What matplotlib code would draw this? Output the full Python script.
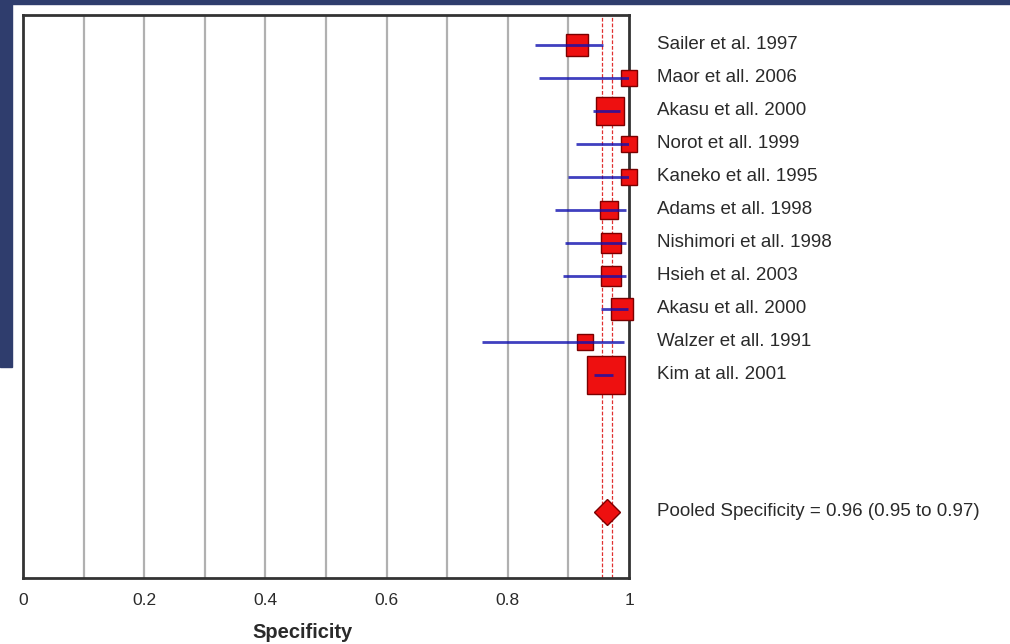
import matplotlib
matplotlib.use("Agg")
import matplotlib.pyplot as plt
from matplotlib.patches import Rectangle
import numpy as np

plt.rcParams['font.family'] = ['Liberation Sans', 'DejaVu Sans']

studies = ["Sailer et al. 1997", "Maor et all. 2006", "Akasu et all. 2000",
           "Norot et all. 1999", "Kaneko et all. 1995", "Adams et all. 1998",
           "Nishimori et all. 1998", "Hsieh et al. 2003", "Akasu et all. 2000",
           "Walzer et all. 1991", "Kim at all. 2001"]
spec = [0.914, 1.0, 0.969, 1.0, 1.0, 0.967, 0.971, 0.971, 0.988, 0.927, 0.962]
ci_low = [0.845, 0.852, 0.940, 0.912, 0.900, 0.878, 0.894, 0.891, 0.953, 0.757, 0.942]
ci_high = [0.957, 1.0, 0.985, 1.0, 1.0, 0.995, 0.995, 0.995, 0.998, 0.992, 0.974]
weights = [4.8, 2.6, 8.4, 2.6, 2.6, 3.6, 4.0, 4.0, 4.8, 2.6, 13.7]
pooled = 0.964
pooled_label = "Pooled Specificity = 0.96 (0.95 to 0.97)"
pooled_ci = [0.955, 0.972]
xticks = [0, 0.2, 0.4, 0.6, 0.8, 1]
xticklabels = ["0", "0.2", "0.4", "0.6", "0.8", "1"]
xlabel = "Specificity"

W, H = 1010, 644
fig = plt.figure(figsize=(W / 100, H / 100), dpi=100)
fig.patch.set_facecolor("white")
navy = "#2f3d6d"
fig.patches.append(Rectangle((0, 1 - 4 / H), 1, 4 / H, transform=fig.transFigure,
                             color=navy, zorder=0))
fig.patches.append(Rectangle((0, 1 - 367 / H), 12 / W, 367 / H, transform=fig.transFigure,
                             color=navy, zorder=0))

ax = fig.add_axes([23 / W, (H - 578) / H, 606 / W, 563 / H])
ax.set_xlim(0, 1)
ax.set_ylim(17.15, 0.1)

for g in np.arange(0.1, 1.0, 0.1):
    ax.axvline(g, color="#b0b0b0", lw=1.6, zorder=1)
for v in pooled_ci:
    ax.axvline(v, color="#e03030", lw=0.9, ls=(0, (3, 1.5)), zorder=1.5)

txtc = "#2a2a2a"
rows = np.arange(1, len(studies) + 1)
for r, s, lo, hi, w, name in zip(rows, spec, ci_low, ci_high, weights, studies):
    side_px = 10 * np.sqrt(w)
    ax.plot([s], [r], marker="s", ms=side_px * 0.72, mfc="#ee1010", mec="#7a0000",
            mew=1.0, zorder=3, clip_on=False)
    ax.plot([lo, hi], [r, r], color="#1010b0", lw=2.0, alpha=0.8, zorder=4,
            solid_capstyle="butt")
    ax.text(1.046, r, name, transform=ax.get_yaxis_transform(), ha="left",
            va="center", fontsize=13.5, color=txtc)

prow = 15.15
ax.plot([pooled], [prow], marker="D", ms=13, mfc="#ee1010", mec="#7a0000",
        mew=1.0, zorder=3)
ax.text(1.046, prow, pooled_label, transform=ax.get_yaxis_transform(), ha="left",
        va="center", fontsize=13.5, color=txtc)

ax.set_yticks([])
ax.set_xticks(xticks)
ax.set_xticklabels(xticklabels, fontsize=12.5, color=txtc)
ax.tick_params(axis="x", length=0, pad=11)
for sp in ax.spines.values():
    sp.set_color("#333333")
    sp.set_linewidth(2)

fig.text(303 / W, 1 - 632 / H, xlabel, ha="center", va="center", fontsize=14.5,
         fontweight="bold", color=txtc)

fig.savefig("out.png", dpi=100)
